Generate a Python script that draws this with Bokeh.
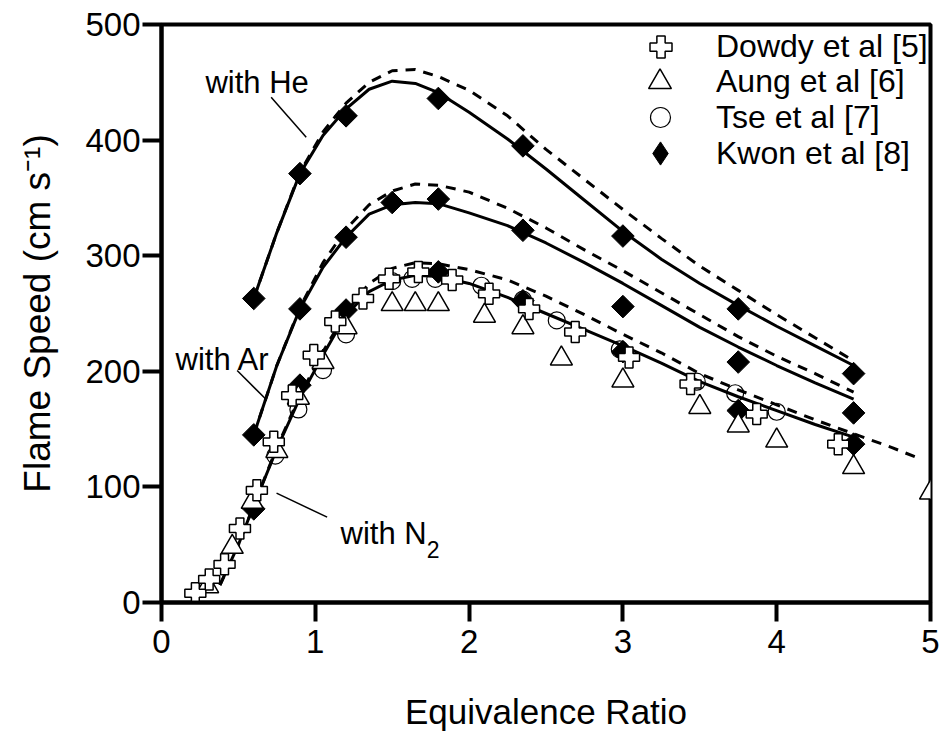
import numpy as np
from bokeh.plotting import figure
from bokeh.models import Range1d, FixedTicker, Legend, LegendItem
from bokeh.core.properties import value
from bokeh.embed import file_html
from bokeh.resources import INLINE

FONT = "Liberation Sans"

# ---- experimental data ----
dowdy_x = [0.22, 0.31, 0.41, 0.51, 0.62, 0.73, 0.85, 0.99, 1.13, 1.31, 1.48, 1.67, 1.89, 2.13, 2.39, 2.69, 3.04, 3.44, 3.87, 4.40]
dowdy_y = [8, 20, 33, 64, 97, 139, 179, 214, 243, 263, 280, 286, 279, 267, 254, 234, 212, 189, 163, 137]

aung_x = [0.30, 0.46, 0.59, 0.75, 0.89, 1.05, 1.20, 1.50, 1.65, 1.80, 2.10, 2.35, 2.60, 3.00, 3.50, 3.75, 4.00, 4.50, 5.00]
aung_y = [14, 48, 87, 131, 177, 208, 238, 258, 258, 258, 248, 238, 211, 192, 169, 153, 140, 117, 95]

tse_x = [0.74, 0.89, 1.05, 1.20, 1.50, 1.63, 1.78, 2.08, 2.35, 2.57, 2.98, 3.48, 3.73, 4.00]
tse_y = [127, 167, 201, 232, 278, 280, 280, 274, 262, 244, 219, 191, 181, 165]

kwon_x = [0.6, 0.9, 1.2, 1.5, 1.8, 2.35, 3.0, 3.75, 4.5]
kwon_he = [263, 371, 421, None, 436, 395, 317, 254, 198]
kwon_ar = [145, 254, 316, 346, 349, 322, 256, 208, 164]
kwon_n2 = [81, 188, 253, None, 286, 261, 217, 166, 137]

# ---- model curves ----
he_x = [0.6, 0.75, 0.9, 1.05, 1.2, 1.35, 1.5, 1.65, 1.8, 2.0, 2.25, 2.5, 2.75, 3.0, 3.25, 3.5, 3.75, 4.0, 4.25, 4.5]
he_solid = [263, 320, 371, 404, 427, 444, 451, 449, 441, 424, 401, 375, 348, 321, 297, 276, 257, 239, 222, 205]
he_dash = [263, 320, 372, 407, 432, 450, 460, 461, 455, 443, 421, 392, 366, 340, 315, 291, 270, 249, 229, 209]

ar_x = [0.6, 0.75, 0.9, 1.05, 1.2, 1.35, 1.5, 1.65, 1.8, 2.0, 2.25, 2.5, 2.75, 3.0, 3.25, 3.5, 3.75, 4.0, 4.25, 4.5]
ar_solid = [145, 205, 254, 290, 316, 336, 344, 346, 345, 337, 326, 311, 294, 276, 257, 238, 221, 205, 190, 176]
ar_dash = [145, 205, 255, 294, 323, 344, 356, 362, 361, 355, 341, 324, 305, 287, 268, 249, 230, 213, 198, 182]

n2_x = [0.38, 0.5, 0.6, 0.75, 0.9, 1.05, 1.2, 1.35, 1.5, 1.65, 1.8, 2.0, 2.25, 2.5, 2.75, 3.0, 3.25, 3.5, 3.75, 4.0, 4.25, 4.5]
n2_solid = [15, 50, 84, 133, 177, 214, 249, 269, 279, 283, 282, 276, 264, 250, 236, 222, 207, 191, 178, 166, 154, 143]
n2_dash_x = [0.38, 0.5, 0.6, 0.75, 0.9, 1.05, 1.2, 1.35, 1.5, 1.65, 1.8, 2.0, 2.25, 2.5, 2.75, 3.0, 3.25, 3.5, 3.75, 4.0, 4.25, 4.5, 4.75, 4.9]
n2_dash = [15, 50, 84, 134, 179, 217, 251, 276, 289, 294, 293, 288, 279, 265, 249, 232, 216, 198, 184, 171, 158, 146, 134, 126]

# ---- ticks / labels ----
x_ticks = [0, 1, 2, 3, 4, 5]
y_ticks = [0, 100, 200, 300, 400, 500]
legend_labels = ["Dowdy et al [5]", "Aung et al [6]", "Tse et al [7]", "Kwon et al [8]"]

# annotation texts and leader lines (data coords)
ann_text = ["with He", "with Ar", "with N"]
ann_tx = [0.286, 0.091, 1.164]
ann_ty = [450, 210, 60]
sub_text = ["2"]
sub_tx = [1.725]
sub_ty = [46]
lead_x0 = [0.713, 0.492, 0.748]
lead_y0 = [437, 200.7, 94.6]
lead_x1 = [0.941, 0.676, 1.077]
lead_y1 = [402.5, 176.2, 73.8]

# frame geometry (screen px) used for the legend rows
FRAME_LEFT, FRAME_BOTTOM = 161, 602
LEG_GLYPH_CX, LEG_TEXT_X = 660, 716
leg_row_cy = [46, 82, 117, 153]
leg_box = [55, 57, 50, 58]

p = figure(width=943, height=748, output_backend="svg", toolbar_location=None,
           x_range=Range1d(0, 5), y_range=Range1d(0, 500),
           min_border_left=161, min_border_right=13, min_border_top=24, min_border_bottom=146)
p.background_fill_color = "white"
p.border_fill_color = "white"
p.xgrid.visible = False
p.ygrid.visible = False
p.outline_line_color = "black"
p.outline_line_width = 4

for ax in (p.xaxis[0], p.yaxis[0]):
    ax.axis_line_width = 4
    ax.major_tick_line_width = 4
    ax.major_tick_out = 19
    ax.major_tick_in = 0
    ax.minor_tick_line_color = None
    ax.major_label_text_font = FONT
    ax.major_label_text_font_size = "33px"
    ax.major_label_text_color = "black"
    ax.axis_label_text_font = FONT
    ax.axis_label_text_font_style = "normal"
    ax.axis_label_text_color = "black"

p.xaxis.ticker = FixedTicker(ticks=x_ticks)
p.yaxis.ticker = FixedTicker(ticks=y_ticks)
p.xaxis.axis_label = "Equivalence Ratio"
p.yaxis.axis_label = "Flame Speed (cm s\u207b\u00b9)"
p.xaxis.axis_label_text_font_size = "35px"
p.yaxis.axis_label_text_font_size = "37px"
p.xaxis.major_label_standoff = 8
p.yaxis.major_label_standoff = 2
p.xaxis.axis_label_standoff = 36
p.yaxis.axis_label_standoff = 24

# curves
for xs, ys in ((he_x, he_solid), (ar_x, ar_solid), (n2_x, n2_solid)):
    p.line(xs, ys, line_color="black", line_width=3)
for xs, ys in ((he_x, he_dash), (ar_x, ar_dash), (n2_dash_x, n2_dash)):
    p.line(xs, ys, line_color="black", line_width=3, line_dash="10 8")

# leader lines and annotation text
p.segment(lead_x0, lead_y0, lead_x1, lead_y1, line_color="black", line_width=1.5)
p.text(ann_tx, ann_ty, text=ann_text, text_font=value(FONT), text_font_size="31px",
       text_baseline="alphabetic", text_align="left", text_color="black")
p.text(sub_tx, sub_ty, text=sub_text, text_font=value(FONT), text_font_size="23px",
       text_baseline="alphabetic", text_align="left", text_color="black")

# markers
r_tse = p.scatter(tse_x, tse_y, marker="circle", size=17, fill_alpha=0,
                  line_color="black", line_width=1.2)
kx, ky = [], []
for ser in (kwon_he, kwon_ar, kwon_n2):
    for xv, yv in zip(kwon_x, ser):
        if yv is not None:
            kx.append(xv)
            ky.append(yv)
# diamond-shaped key for the legend (drawn underneath the rotated squares)
r_kwon_key = p.scatter(kx, ky, marker="diamond", size=14,
                       fill_color="black", line_color="black", line_width=1)
r_kwon = p.scatter(kx, ky, marker="square", angle=np.pi / 4, size=16,
                   fill_color="black", line_color="black", line_width=1)
r_aung = p.scatter(aung_x, aung_y, marker="triangle", size=22, fill_color="white",
                   line_color="black", line_width=1.5)
r_dowdy = p.scatter(dowdy_x, dowdy_y, marker="plus", size=21, fill_color="white",
                    line_color="black", line_width=1.5)

# one single-row legend per series so each glyph gets its own size
for lab, rend, cy, box in zip(legend_labels, [r_dowdy, r_aung, r_tse, r_kwon_key], leg_row_cy, leg_box):
    lg = Legend(items=[LegendItem(label=lab, renderers=[rend])],
                location=(int(round(LEG_GLYPH_CX - box / 2 - FRAME_LEFT)),
                          int(round(FRAME_BOTTOM - (cy + box / 2)))))
    lg.label_text_font = FONT
    lg.label_text_font_size = "32px"
    lg.label_text_color = "black"
    lg.glyph_width = box
    lg.glyph_height = box
    lg.label_height = box
    lg.label_standoff = int(round(LEG_TEXT_X - (LEG_GLYPH_CX + box / 2)))
    lg.spacing = 0
    lg.padding = 0
    lg.margin = 0
    lg.border_line_color = None
    lg.background_fill_alpha = 0
    p.add_layout(lg)

open("out.html", "w").write(file_html(p, INLINE))
